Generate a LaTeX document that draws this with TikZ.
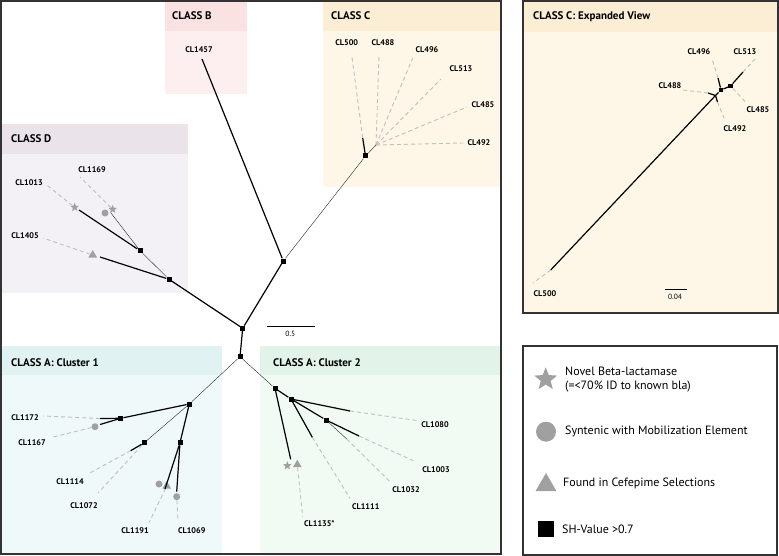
\documentclass[tikz,border=0pt]{standalone}
\usepackage{fontspec}
\setmainfont{PT Sans}
\usetikzlibrary{shapes.geometric}

\definecolor{bhead}{RGB}{250,226,226}
\definecolor{bbody}{RGB}{253,239,239}
\definecolor{chead}{RGB}{252,238,212}
\definecolor{cbody}{RGB}{254,247,231}
\definecolor{dhead}{RGB}{234,228,234}
\definecolor{dbody}{RGB}{244,241,246}
\definecolor{aonehead}{RGB}{225,242,242}
\definecolor{aonebody}{RGB}{239,249,249}
\definecolor{atwohead}{RGB}{226,244,233}
\definecolor{atwobody}{RGB}{242,250,244}
\definecolor{markgray}{RGB}{160,160,160}

\begin{document}
\begin{tikzpicture}[x=1pt,y=-1pt]
\tikzstyle{every node} = [inner sep=0]
\tikzstyle{shnode} = [fill=black, rectangle, minimum size=5pt]
\tikzstyle{edge} = [draw, line width=1.2pt]
\tikzstyle{thinedge} = [draw, line width=0.4pt, black!85]
\tikzstyle{leafedge} = [draw, line width=0.9pt, black!25, dash pattern=on 4pt off 3pt]
\tikzstyle{starmark} = [star, star points=5, star point ratio=2.3, fill=markgray, minimum size=9pt]
\tikzstyle{circmark} = [circle, fill=markgray, minimum size=7pt]
\tikzstyle{trimark} = [regular polygon, regular polygon sides=3, fill=markgray, minimum size=10pt]
\tikzstyle{leaf} = [font=\fontsize{8.2}{9}\selectfont\bfseries]
\tikzstyle{header} = [anchor=west, font=\fontsize{11}{13}\selectfont\bfseries]
\tikzstyle{legtext} = [anchor=west, align=left, font=\fontsize{12}{14}\selectfont]
\useasboundingbox (0,0) rectangle (779,556);

% class boxes
\fill[bbody] (165,1) rectangle (247,94);
\fill[bhead] (165,1) rectangle (247,31);
\fill[cbody] (323,1) rectangle (500,187);
\fill[chead] (323,1) rectangle (500,31);
\fill[dbody] (1,124) rectangle (188,293);
\fill[dhead] (1,124) rectangle (188,154);
\fill[aonebody] (1,346) rectangle (222,553);
\fill[aonehead] (1,346) rectangle (222,375);
\fill[atwobody] (260,346) rectangle (500,553);
\fill[atwohead] (260,346) rectangle (500,375);
\fill[cbody] (523,1) rectangle (778,313);
\fill[chead] (523,1) rectangle (778,32);

\node[header] (hb) at (172,16) {CLASS B};
\node[header] (hc) at (331,16) {CLASS C};
\node[header] (hd) at (11,139) {CLASS D};
\node[header] (ha1) at (11,363) {CLASS A: Cluster 1};
\node[header] (ha2) at (273,363) {CLASS A: Cluster 2};
\node[header] (he) at (533,17) {CLASS C: Expanded View};

% frames
\draw[line width=1.2pt, black!80] (1,1) rectangle (501,554);
\draw[line width=1.2pt, black!80] (523,1) rectangle (778,313);
\draw[line width=1.2pt, black!80] (523,346) rectangle (777,555);

% inner nodes
\node[shnode] (r1) at (242.7,328.3) {};
\node[shnode] (r2) at (240,356.7) {};
\node[shnode] (bc) at (283.3,261) {};
\node[shnode] (d1) at (169,279.3) {};
\node[shnode] (d2) at (140,250.7) {};
\node[shnode] (c0) at (365.5,156) {};
\node[shnode] (a1) at (189.3,404) {};
\node[shnode] (a11) at (120.7,418.3) {};
\node[shnode] (a2) at (144.3,442.7) {};
\node[shnode] (a3) at (180,442.7) {};
\node[shnode] (b1) at (275,388.3) {};
\node[shnode] (b2) at (291,399) {};
\node[shnode] (b3) at (326,420) {};

% tips
\coordinate (t1457) at (202,59);
\coordinate (t500) at (362.7,138);
\coordinate (chub) at (376,145);
\coordinate (t1013) at (79,210);
\coordinate (t1169) at (111,213);
\coordinate (t1405) at (100,257);
\coordinate (t1172) at (100,418.5);
\coordinate (t1167) at (100,424.5);
\coordinate (t1114) at (130.7,450.7);
\coordinate (t1191) at (165,489);
\coordinate (t1069) at (176.7,491.7);
\coordinate (t1135) at (290.7,459.3);
\coordinate (t1080) at (350,411);
\coordinate (t1111) at (312.3,437.3);
\coordinate (t1003) at (359,436);
\coordinate (t1032) at (346.7,439);

% markers
\node[starmark] (s1013) at (74.7,207.3) {};
\node[circmark] (o1169) at (105,213) {};
\node[starmark] (s1169) at (112.7,209.3) {};
\node[trimark] (g1405) at (92.7,255) {};
\node[circmark] (o1167) at (95,426.7) {};
\node[circmark] (o1191) at (159,484) {};
\node[trimark] (g1191) at (166.7,486) {};
\node[circmark] (o1069) at (176.7,496.7) {};
\node[starmark] (s1135) at (287.3,465.7) {};
\node[trimark] (g1135) at (297.3,464.7) {};

% labels
\node[leaf] (l1457) at (199,50) {CL1457};
\node[leaf] (l500) at (346.7,43) {CL500};
\node[leaf] (l488) at (383,43) {CL488};
\node[leaf] (l496) at (427,50) {CL496};
\node[leaf] (l513) at (461,69) {CL513};
\node[leaf] (l485) at (483,105) {CL485};
\node[leaf] (l492) at (479,143) {CL492};
\node[leaf] (l1013) at (29,183) {CL1013};
\node[leaf] (l1169) at (92,170) {CL1169};
\node[leaf] (l1405) at (25,236) {CL1405};
\node[leaf] (l1172) at (25,418) {CL1172};
\node[leaf] (l1167) at (32,443) {CL1167};
\node[leaf] (l1114) at (70,481.7) {CL1114};
\node[leaf] (l1072) at (84,506) {CL1072};
\node[leaf] (l1191) at (135,530.7) {CL1191};
\node[leaf] (l1069) at (191.7,530.7) {CL1069};
\node[leaf] (l1135) at (319.3,523.3) {CL1135*};
\node[leaf] (l1080) at (435,425) {CL1080};
\node[leaf] (l1111) at (365.7,506.7) {CL1111};
\node[leaf] (l1003) at (436,470) {CL1003};
\node[leaf] (l1032) at (406,490) {CL1032};

\coordinate (e1457) at (202,59);
\coordinate (e500) at (352,57);
\coordinate (e488) at (379,56);
\coordinate (e496) at (412.7,58);
\coordinate (e513) at (441,79);
\coordinate (e485) at (467,107);
\coordinate (e492) at (463,143);
\coordinate (e1013) at (46.7,185);
\coordinate (e1169) at (80,177);
\coordinate (e1405) at (43,238);
\coordinate (e1172) at (43,416);
\coordinate (e1167) at (53,437);
\coordinate (e1114) at (88,474);
\coordinate (e1072) at (98,493);
\coordinate (e1191) at (149,522.7);
\coordinate (e1069) at (178,520.7);
\coordinate (e1135) at (302.7,516.7);
\coordinate (e1080) at (418.3,420.7);
\coordinate (e1111) at (350,498.3);
\coordinate (e1003) at (413.3,460.7);
\coordinate (e1032) at (390,481.7);

% dashed leaf connectors
\draw[leafedge] (t500) -- (e500);
\draw[leafedge] (chub) -- (e488);
\draw[leafedge] (chub) -- (e496);
\draw[leafedge] (chub) -- (e513);
\draw[leafedge] (chub) -- (e485);
\draw[leafedge] (chub) -- (e492);
\draw[leafedge] (s1013) -- (e1013);
\draw[leafedge] (s1169) -- (e1169);
\draw[leafedge] (g1405) -- (e1405);
\draw[leafedge] (t1172) -- (e1172);
\draw[leafedge] (o1167) -- (e1167);
\draw[leafedge] (t1114) -- (e1114);
\draw[leafedge] (a2) -- (e1072);
\draw[leafedge] (g1191) -- (e1191);
\draw[leafedge] (o1069) -- (e1069);
\draw[leafedge] (g1135) -- (e1135);
\draw[leafedge] (t1080) -- (e1080);
\draw[leafedge] (t1111) -- (e1111);
\draw[leafedge] (t1003) -- (e1003);
\draw[leafedge] (t1032) -- (e1032);

% branches
\draw[edge] (r2) -- (r1);
\draw[edge] (r1) -- (bc);
\draw[edge] (r1) -- (d1);
\draw[edge] (bc) -- (t1457);
\draw[thinedge] (bc) -- (c0);
\draw[edge] (c0) -- (t500);
\draw[thinedge] (c0) -- (chub);
\draw[thinedge] (d1) -- (d2);
\draw[edge] (d2) -- (t1013);
\draw[thinedge] (d2) -- (t1169);
\draw[edge] (d1) -- (t1405);
\draw[thinedge] (r2) -- (a1);
\draw[edge] (a1) -- (a11);
\draw[edge] (a11) -- (t1172);
\draw[edge] (a11) -- (t1167);
\draw[thinedge] (a1) -- (a2);
\draw[edge] (a2) -- (t1114);
\draw[edge] (a1) -- (a3);
\draw[edge] (a3) -- (t1191);
\draw[edge] (a3) -- (t1069);
\draw[thinedge] (r2) -- (b1);
\draw[edge] (b1) -- (t1135);
\draw[edge] (b1) -- (b2);
\draw[edge] (b2) -- (t1080);
\draw[edge] (b2) -- (t1111);
\draw[edge] (b2) -- (b3);
\draw[edge] (b3) -- (t1003);
\draw[thinedge] (b3) -- (t1032);

% scale bar
\coordinate (sa) at (266.7,326);
\coordinate (sb) at (315,326);
\draw[line width=0.6pt] (sa) -- (sb);
\node[leaf, font=\fontsize{7.5}{8}\selectfont] (sl) at (290.3,333.5) {0.5};

% expanded view
\coordinate (x500) at (550.7,270);
\coordinate (xj) at (715.5,95.5);
\node[shnode, minimum size=4.5pt] (xn1) at (721,90) {};
\node[shnode, minimum size=4.5pt] (xn2) at (730.5,86) {};
\coordinate (x513) at (743,72);
\coordinate (x488) at (708,93);
\coordinate (x492) at (717.5,102);
\coordinate (x496) at (718,78);
\draw[edge] (x500) -- (xj) -- (xn1) -- (xn2) -- (x513);
\draw[edge] (xj) -- (x488);
\draw[edge] (xj) -- (x492);
\draw[edge] (xn1) -- (x496);
\node[leaf] (m500) at (545,293.3) {CL500};
\node[leaf] (m488) at (670,86) {CL488};
\node[leaf] (m496) at (699,51.7) {CL496};
\node[leaf] (m513) at (745,51.7) {CL513};
\node[leaf] (m485) at (758,110) {CL485};
\node[leaf] (m492) at (735,128.3) {CL492};
\coordinate (f500) at (533,283);
\coordinate (f488) at (683,90);
\coordinate (f496) at (711.7,58);
\coordinate (f513) at (756.7,57.3);
\coordinate (f485) at (746.7,103.3);
\coordinate (f492) at (724,118);
\draw[leafedge] (x500) -- (f500);
\draw[leafedge] (x488) -- (f488);
\draw[leafedge] (x496) -- (f496);
\draw[leafedge] (x513) -- (f513);
\draw[leafedge] (xn2) -- (f485);
\draw[leafedge] (x492) -- (f492);
\coordinate (xsa) at (665,289.3);
\coordinate (xsb) at (686.7,289.3);
\draw[line width=0.6pt] (xsa) -- (xsb);
\node[leaf, font=\fontsize{7.5}{8}\selectfont] (xsl) at (675,296.5) {0.04};

% legend
\node[starmark, minimum size=24pt] (kstar) at (545.7,379.3) {};
\node[circmark, minimum size=20pt] (kcirc) at (546,431.7) {};
\node[trimark, minimum size=24pt] (ktri) at (546,485) {};
\node[shnode, minimum size=16pt] (ksq) at (545.7,529.3) {};
\node[legtext] (kt1) at (565,379.3) {Novel Beta-lactamase\\(=<70\% ID to known bla)};
\node[legtext] (kt2) at (565,431.7) {Syntenic with Mobilization Element};
\node[legtext] (kt3) at (563,483.3) {Found in Cefepime Selections};
\node[legtext] (kt4) at (562,529.3) {SH-Value >0.7};
\end{tikzpicture}
\end{document}
